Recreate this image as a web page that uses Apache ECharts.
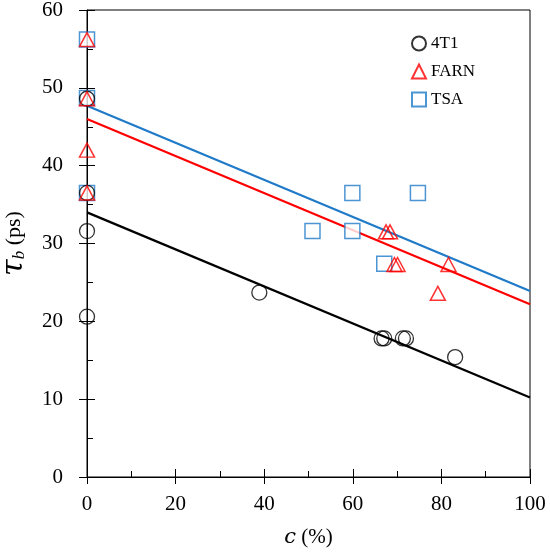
<!DOCTYPE html>
<html>
<head>
<meta charset="utf-8">
<script src="https://cdn.jsdelivr.net/npm/echarts@6/dist/echarts.min.js"></script>
<style>
  html, body { margin: 0; padding: 0; background: #fff; }
  #chart { width: 550px; height: 552px; }
</style>
</head>
<body>
<div id="chart"></div>
<script>
'use strict'

// measured points, c (%) vs tau_b (ps)
const t41C = [0, 0, 0, 0, 38.9, 66.5, 67.1, 71.3, 72.0, 83.1]
const t41Tau = [48.6, 36.5, 31.6, 20.6, 23.7, 17.8, 17.8, 17.8, 17.8, 15.4]
const farnC = [0, 0, 0, 0, 67.5, 68.4, 69.4, 70.1, 81.6, 79.2]
const farnTau = [56.2, 48.6, 42.0, 36.5, 31.5, 31.5, 27.3, 27.3, 27.3, 23.6]
const tsaC = [0, 0, 0, 50.9, 59.9, 59.9, 67.1, 74.7]
const tsaTau = [56.2, 48.7, 36.5, 31.6, 31.6, 36.5, 27.4, 36.5]

// linear fits, value at c = 0 and c = 100
const fitC = [0, 100]
const t41Fit = [34.0, 10.2]
const farnFit = [46.0, 22.2]
const tsaFit = [47.7, 23.9]

const BLACK = '#000000'
const RED = '#ff0000'
const BLUE = '#1f7ac8'
const FONT = 'Liberation Serif'

const zip = (xs, ys) => xs.map((x, i) => [x, ys[i]])

const chart = echarts.init(document.getElementById('chart'))

const yBase = {
  type: 'value',
  min: 0,
  max: 60,
  interval: 10,
  splitLine: { show: false }
}

const option = {
  animation: false,
  backgroundColor: '#fff',
  grid: {
    left: 87,
    right: 20,
    top: 10,
    bottom: 75,
    outerBoundsMode: 'none',
    containLabel: false,
    show: true,
    borderColor: BLACK,
    borderWidth: 1
  },
  legend: {
    orient: 'vertical',
    left: 406,
    top: 30,
    itemWidth: 14,
    itemHeight: 14,
    itemGap: 11,
    textStyle: { fontFamily: FONT, fontSize: 17, color: BLACK },
    data: [
      { name: '4T1', icon: 'circle' },
      { name: 'FARN', icon: 'triangle' },
      { name: 'TSA', icon: 'rect' }
    ]
  },
  xAxis: [
    {
      type: 'value',
      min: 0,
      max: 100,
      interval: 20,
      splitLine: { show: false },
      axisLine: { lineStyle: { color: BLACK, width: 1 } },
      axisTick: { inside: true, length: 8, lineStyle: { color: BLACK } },
      minorTick: { show: true, splitNumber: 2, length: 6, lineStyle: { color: BLACK } },
      axisLabel: { fontFamily: FONT, fontSize: 21, color: BLACK, margin: 17 },
      name: '{c|c} (%)',
      nameLocation: 'middle',
      nameGap: 50,
      nameTextStyle: {
        fontFamily: FONT,
        fontSize: 21,
        color: BLACK,
        rich: {
          c: { fontFamily: 'DejaVu Serif', fontStyle: 'italic', fontSize: 21, color: BLACK }
        }
      }
    },
    {
      type: 'value',
      min: 0,
      max: 100,
      interval: 20,
      position: 'bottom',
      splitLine: { show: false },
      axisLine: { show: false },
      axisTick: { inside: false, length: 7, lineStyle: { color: BLACK } },
      axisLabel: { show: false }
    }
  ],
  yAxis: [
    Object.assign({}, yBase, {
      axisLine: { show: true, lineStyle: { color: BLACK, width: 1 } },
      axisTick: { show: true, inside: true, length: 8, lineStyle: { color: BLACK } },
      minorTick: { show: true, splitNumber: 2, length: 6, lineStyle: { color: BLACK } },
      axisLabel: { fontFamily: FONT, fontSize: 21, color: BLACK, margin: 24 },
      name: '{t|τ}{s|b} (ps)',
      nameLocation: 'middle',
      nameGap: 58,
      nameTextStyle: {
        fontFamily: FONT,
        fontSize: 22,
        color: BLACK,
        rich: {
          t: { fontFamily: 'DejaVu Serif', fontStyle: 'italic', fontSize: 30, color: BLACK },
          s: { fontFamily: FONT, fontStyle: 'italic', fontSize: 17, color: BLACK, padding: [12, 0, 0, 0] }
        }
      }
    }),
    Object.assign({}, yBase, {
      position: 'left',
      axisLine: { show: false },
      axisTick: { show: true, inside: false, length: 8, lineStyle: { color: BLACK } },
      axisLabel: { show: false }
    })
  ],
  series: [
    {
      name: 'TSA-fit',
      type: 'line',
      data: zip(fitC, tsaFit),
      symbol: 'none',
      lineStyle: { color: BLUE, width: 2.2 },
      z: 1
    },
    {
      name: 'FARN-fit',
      type: 'line',
      data: zip(fitC, farnFit),
      symbol: 'none',
      lineStyle: { color: RED, width: 2.2 },
      z: 1
    },
    {
      name: '4T1-fit',
      type: 'line',
      data: zip(fitC, t41Fit),
      symbol: 'none',
      lineStyle: { color: BLACK, width: 2.2 },
      z: 1
    },
    {
      name: 'TSA',
      type: 'scatter',
      data: zip(tsaC, tsaTau),
      symbol: 'rect',
      symbolSize: 15,
      itemStyle: { color: '#ffffff', borderColor: BLUE, borderWidth: 1.5 },
      z: 3
    },
    {
      name: '4T1',
      type: 'scatter',
      data: zip(t41C, t41Tau),
      symbol: 'circle',
      symbolSize: 15,
      itemStyle: { color: 'transparent', borderColor: BLACK, borderWidth: 1.3 },
      z: 3
    },
    {
      name: 'FARN',
      type: 'scatter',
      data: zip(farnC, farnTau),
      symbol: 'triangle',
      symbolSize: [15, 14],
      itemStyle: { color: 'transparent', borderColor: RED, borderWidth: 1.5 },
      z: 3
    }
  ]
}

chart.setOption(option)
</script>
</body>
</html>
